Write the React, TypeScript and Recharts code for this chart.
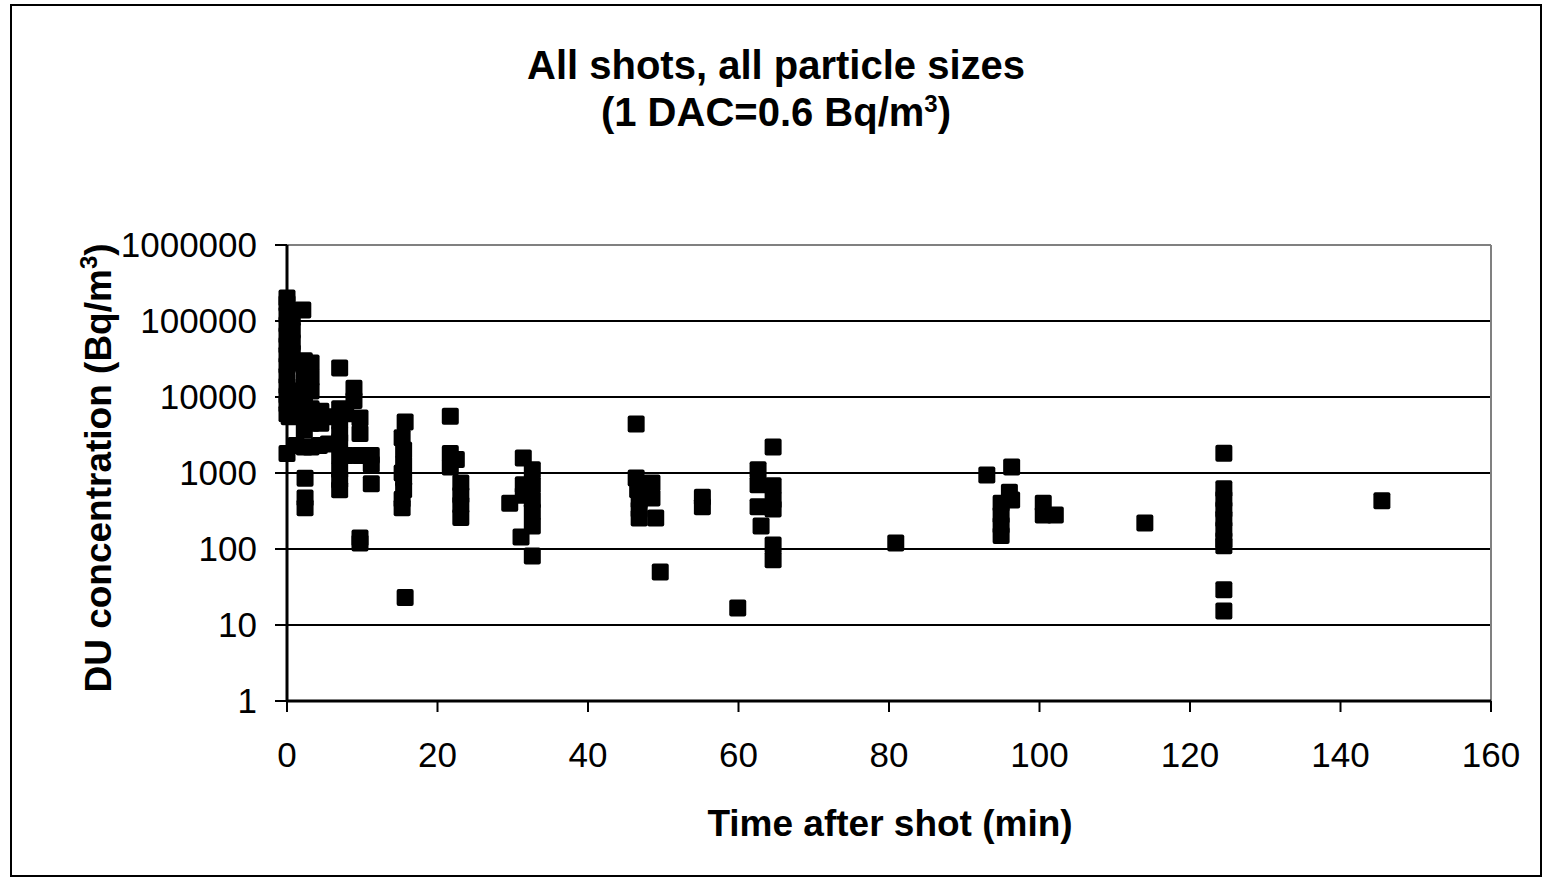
import React from 'react';
import { ScatterChart, Scatter, XAxis, YAxis, CartesianGrid, ReferenceLine } from 'recharts';

// Time after shot (min) and DU concentration (Bq/m3)
const earlyTimes = [
  0, 0, 0, 0, 0, 0, 0, 0, 0, 0, 0, 0, 0, 0, 0.3,
  0.7, 0.7, 0.7, 0.7, 0.7, 0.7, 0.7, 1.2,
  2.1, 2.3, 2.3, 2.3, 2.3, 2.3, 2.3, 2.3, 2.3, 2.4, 2.4, 2.4,
  3.2, 3.2, 3.2, 3.2, 3.2, 3.2,
  4.5, 4.5, 4.3, 5.5, 5.5,
  7, 7, 7, 7, 7, 7, 7, 7, 7, 7.8, 7.8,
  8.9, 8.9, 9.7, 9.7, 9.7, 9.7, 9.7, 11.2, 11.2, 11.2,
];
const earlyValues = [
  200000, 170000, 120000, 90000, 65000, 48000, 36000, 26000, 19000, 14000, 10500, 8000, 6000, 1800, 5500,
  110000, 75000, 52000, 38000, 28000, 12000, 7500, 2300,
  140000, 30000, 22000, 16000, 11000, 8000, 5500, 3700, 2200, 850, 470, 350,
  28000, 18000, 12000, 7000, 4500, 2200,
  6500, 4500, 2300, 5500, 2400,
  24000, 7000, 4800, 3200, 2600, 1700, 1100, 800, 600, 6000, 1700,
  13000, 9000, 5300, 3300, 1700, 140, 120, 1700, 1300, 720,
];

const midTimes = [
  15.7, 15.3, 15.5, 15.5, 15.3, 15.5, 15.5, 15.3, 15.3, 15.7,
  21.7, 21.7, 22.5, 21.7, 23.1, 23.1, 23.1, 23.1,
  29.6, 31.4, 31.4, 31.4, 31.1, 32.6, 32.6, 32.6, 32.6, 32.6, 32.6,
  46.4, 46.4, 46.6, 46.8, 46.8, 46.8, 48.5, 48.5, 49.0, 49.6,
  55.2, 55.2, 59.9,
  62.6, 62.6, 62.6, 63.0, 64.6, 64.6, 64.6, 64.6, 64.6, 64.6,
];
const midValues = [
  4700, 2900, 2000, 1300, 1000, 850, 600, 450, 350, 23,
  5600, 1800, 1500, 1200, 740, 510, 380, 260,
  400, 1580, 700, 510, 144, 1100, 700, 440, 310, 200, 81,
  4400, 860, 600, 440, 330, 255, 740, 470, 255, 50,
  480, 360, 16.7,
  1100, 700, 360, 200, 2200, 680, 440, 335, 113, 72,
];

const lateTimes = [
  80.9, 93.0, 94.9, 94.9, 94.9, 94.9, 96.3, 96.0, 96.3,
  100.5, 100.5, 102.1, 114.0,
  124.5, 124.5, 124.5, 124.5, 124.5, 124.5, 124.5, 124.5, 124.5, 124.5,
  145.5,
];
const lateValues = [
  120, 940, 400, 280, 205, 150, 1200, 560, 440,
  400, 280, 280, 220,
  1820, 620, 450, 330, 250, 180, 130, 110, 29, 15.3,
  430,
];

const xTicks = [0, 20, 40, 60, 80, 100, 120, 140, 160];
const yTicks = [1, 10, 100, 1000, 10000, 100000, 1000000];

const times = [...earlyTimes, ...midTimes, ...lateTimes];
const values = [...earlyValues, ...midValues, ...lateValues];
const data = times.map((t, i) => ({ t, c: values[i] }));

const FONT = '"Liberation Sans", Arial, sans-serif';

const Square = (props: any) => {
  const { cx, cy } = props;
  if (cx == null || cy == null) return null;
  return <rect x={cx - 8.5} y={cy - 8.5} width={17} height={17} rx={2} fill="#000" />;
};

const XTick = (props: any) => {
  const { x, y, payload } = props;
  return (
    <text x={x} y={y} dy={53} textAnchor="middle" fontSize={35} fontFamily={FONT} fill="#000">
      {payload.value}
    </text>
  );
};

const YTick = (props: any) => {
  const { x, y, payload } = props;
  return (
    <text x={x} y={y} dx={-16} dy={12} textAnchor="end" fontSize={35} fontFamily={FONT} fill="#000">
      {String(payload.value)}
    </text>
  );
};

export default function App() {
  return (
    <div style={{ position: 'absolute', left: 0, top: 0, width: 1549, height: 880, background: '#fff' }}>
      <div
        style={{
          position: 'absolute',
          left: 10,
          top: 4,
          width: 1532,
          height: 873,
          border: '2px solid #000',
          boxSizing: 'border-box',
        }}
      />
      <ScatterChart
        width={1549}
        height={880}
        margin={{ top: 245, right: 58, bottom: 99, left: 117 }}
        style={{ position: 'absolute', left: 0, top: 0 }}
      >
        <CartesianGrid vertical={false} stroke="#000" strokeWidth={2} strokeOpacity={1} />
        <XAxis
          type="number"
          dataKey="t"
          domain={[0, 160]}
          ticks={xTicks}
          height={80}
          tickSize={11}
          tickMargin={2}
          axisLine={{ stroke: '#000', strokeWidth: 3 }}
          tickLine={{ stroke: '#000', strokeWidth: 2 }}
          tick={<XTick />}
        />
        <YAxis
          type="number"
          dataKey="c"
          scale="log"
          domain={[1, 1000000]}
          ticks={yTicks}
          width={170}
          tickSize={12}
          tickMargin={2}
          axisLine={{ stroke: '#000', strokeWidth: 3 }}
          tickLine={{ stroke: '#000', strokeWidth: 2 }}
          tick={<YTick />}
        />
        <ReferenceLine y={1000000} stroke="#808080" strokeWidth={2} />
        <ReferenceLine x={160} stroke="#808080" strokeWidth={2} />
        <Scatter data={data} shape={<Square />} isAnimationActive={false} />
      </ScatterChart>
      <svg
        width={1549}
        height={880}
        style={{ position: 'absolute', left: 0, top: 0, pointerEvents: 'none' }}
        fontFamily={FONT}
      >
        <text x={776} y={79} textAnchor="middle" fontSize={40} fontWeight="bold">
          All shots, all particle sizes
        </text>
        <text x={776} y={126} textAnchor="middle" fontSize={40} fontWeight="bold">
          (1 DAC=0.6 Bq/m
          <tspan dy={-14} fontSize={24}>3</tspan>
          <tspan dy={14}>)</tspan>
        </text>
        <text x={890} y={836} textAnchor="middle" fontSize={37} fontWeight="bold">
          Time after shot (min)
        </text>
        <text
          x={0}
          y={0}
          transform="translate(111 468) rotate(-90)"
          textAnchor="middle"
          fontSize={37}
          fontWeight="bold"
        >
          DU concentration (Bq/m
          <tspan dy={-14} fontSize={24}>3</tspan>
          <tspan dy={14}>)</tspan>
        </text>
      </svg>
    </div>
  );
}
